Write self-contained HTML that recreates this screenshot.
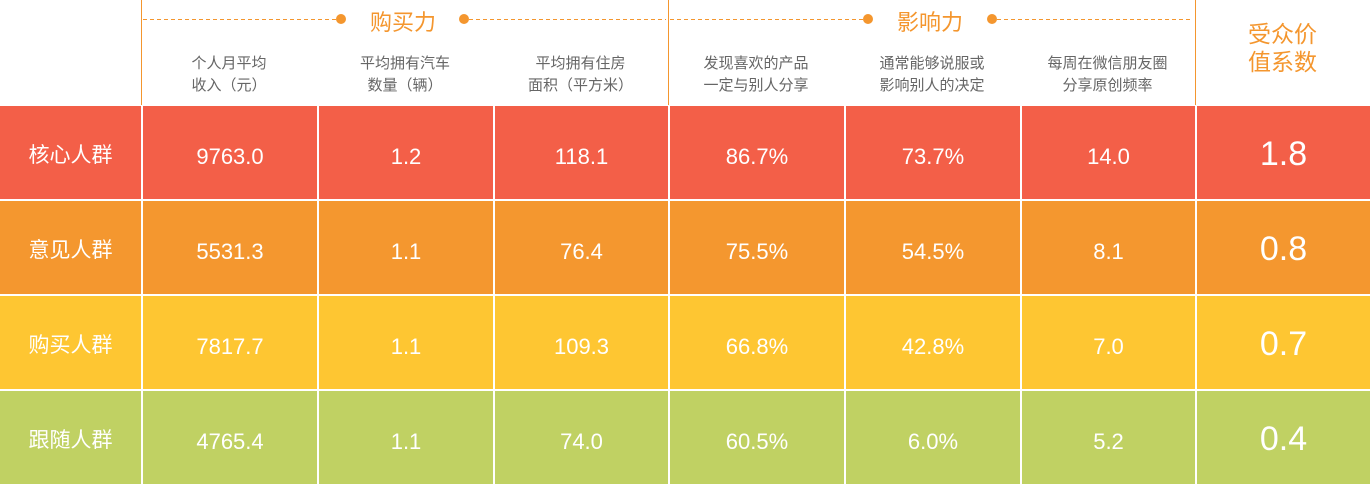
<!DOCTYPE html>
<html><head><meta charset="utf-8"><style>
body{margin:0;width:1370px;height:483px;background:#fff;font-family:"Liberation Sans","Noto Sans CJK SC",sans-serif;position:relative;overflow:hidden}
.a{position:absolute}
.h{color:#666;font-size:15px;line-height:22px;text-align:center;top:53px}
.c{display:flex;align-items:center;justify-content:center;color:#fff;font-size:22px;box-sizing:border-box;padding-top:8px}
.vl{background:#F4962E;width:1px;top:0;height:105px}
.dash{height:1px;top:19px;background:repeating-linear-gradient(90deg,#F4962E 0 4px,transparent 4px 7px)}
.dot{width:10px;height:10px;border-radius:50%;background:#F4962E;top:14px}
.gt{color:#F4962E;font-size:22px;top:5px}
</style></head><body>
<div class="a vl" style="left:141px"></div>
<div class="a vl" style="left:668px"></div>
<div class="a vl" style="left:1195px"></div>
<div class="a dash" style="left:143px;width:193px"></div>
<div class="a dot" style="left:336px"></div>
<div class="a gt" style="left:370px">购买力</div>
<div class="a dot" style="left:459px"></div>
<div class="a dash" style="left:469px;width:197px"></div>
<div class="a dash" style="left:670px;width:193px"></div>
<div class="a dot" style="left:863px"></div>
<div class="a gt" style="left:897px">影响力</div>
<div class="a dot" style="left:987px"></div>
<div class="a dash" style="left:997px;width:196px"></div>
<div class="a" style="left:1195px;width:175px;top:20px;text-align:center;color:#F4962E;font-size:23px;line-height:28px">受众价<br>值系数</div>
<script>
const heads=["个人月平均<br>收入（元）","平均拥有汽车<br>数量（辆）","平均拥有住房<br>面积（平方米）","发现喜欢的产品<br>一定与别人分享","通常能够说服或<br>影响别人的决定","每周在微信朋友圈<br>分享原创频率"];
const groups=["核心人群","意见人群","购买人群","跟随人群"];
const income=["9763.0","5531.3","7817.7","4765.4"];
const cars=["1.2","1.1","1.1","1.1"];
const house=["118.1","76.4","109.3","74.0"];
const share=["86.7%","75.5%","66.8%","60.5%"];
const influence=["73.7%","54.5%","42.8%","6.0%"];
const freq=["14.0","8.1","7.0","5.2"];
const coef=["1.8","0.8","0.7","0.4"];
const colors=["#F35F48","#F4972F","#FEC632","#C0D163"];
const xs=[0,141,317,493,668,844,1020,1195,1370];
const body=document.body;
heads.forEach((t,i)=>{const d=document.createElement('div');d.className='a h';


d.style.left=xs[i+1]+'px';d.style.width=(xs[i+2]-xs[i+1])+'px';d.innerHTML=t;body.appendChild(d);});
groups.forEach((g,r)=>{const vals=[g,income[r],cars[r],house[r],share[r],influence[r],freq[r],coef[r]];
const top=106+r*95;
vals.forEach((v,c)=>{const d=document.createElement('div');d.className='a c';


const l=xs[c]+(c>0?2:0);d.style.left=l+'px';d.style.width=(xs[c+1]-l)+'px';d.style.top=top+'px';d.style.height='93px';
d.style.background=colors[r];
if(c==7){d.style.fontSize='34px';d.style.paddingTop='4px';}
if(c==0){d.style.fontSize='21px';d.style.paddingTop='2px';}
d.textContent=v;body.appendChild(d);});});
</script>
</body></html>
